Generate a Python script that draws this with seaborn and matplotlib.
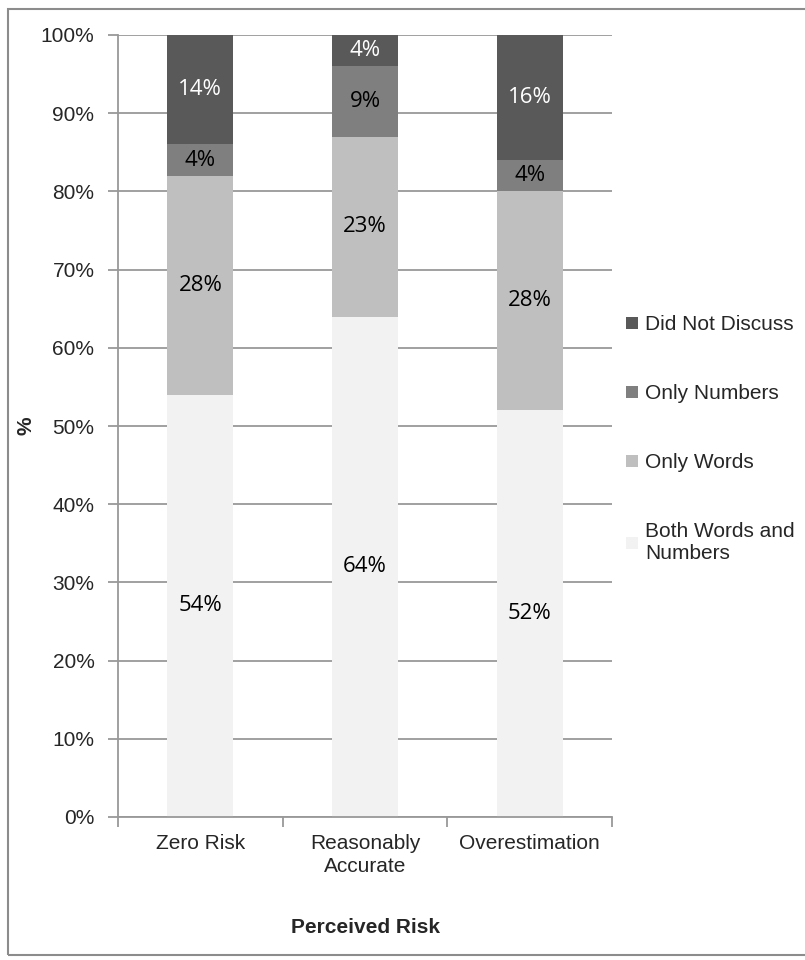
import numpy as np
import pandas as pd
import seaborn as sns
import matplotlib.pyplot as plt
from matplotlib.patches import Rectangle, Patch

sns.set_theme(style="white")
plt.rcParams["font.family"] = ["Liberation Sans", "DejaVu Sans"]

categories = ["Zero Risk", "Reasonably\nAccurate", "Overestimation"]
series = ["Both Words and\nNumbers", "Only Words", "Only Numbers", "Did Not Discuss"]
both_words_numbers = [54, 64, 52]
only_words = [28, 23, 28]
only_numbers = [4, 9, 4]
did_not_discuss = [14, 4, 16]

colors = ["#f2f2f2", "#bfbfbf", "#7f7f7f", "#595959"]
label_colors = ["black", "black", "black", "white"]


def main():
    values = np.array([both_words_numbers, only_words, only_numbers, did_not_discuss])
    tops = np.cumsum(values, axis=0)

    fig = plt.figure(figsize=(8.05, 9.6), dpi=100)
    ax = fig.add_axes([118 / 805, 1 - 817 / 960, (612 - 118) / 805, (817 - 35) / 960])

    # draw from the top segment down so each lower segment covers the one above
    for i in range(len(series) - 1, -1, -1):
        df = pd.DataFrame({"risk": categories, "top": tops[i]})
        sns.barplot(
            data=df,
            x="risk",
            y="top",
            color=colors[i],
            width=0.4,
            saturation=1,
            linewidth=0,
            ax=ax,
            zorder=2,
        )

    for i in range(len(series)):
        for j in range(len(categories)):
            mid = tops[i][j] - values[i][j] / 2
            ax.text(
                j, mid, f"{values[i][j]}%", ha="center", va="center",
                color=label_colors[i], fontsize=16, family=["Open Sans", "DejaVu Sans"],
                zorder=3,
            )

    ax.set_ylim(0, 100)
    ax.set_xlim(-0.5, 2.5)
    ax.set_yticks(range(0, 101, 10))
    ax.set_yticklabels([f"{v}%" for v in range(0, 101, 10)], fontsize=15)
    ax.yaxis.grid(True, color="#999999", linewidth=1.3, zorder=0)
    ax.set_axisbelow(True)
    for s in ["top", "right"]:
        ax.spines[s].set_visible(False)
    for s in ["left", "bottom"]:
        ax.spines[s].set_color("#999999")
        ax.spines[s].set_linewidth(1.3)

    ax.set_xticks([0, 1, 2])
    ax.set_xticklabels(categories, fontsize=15, linespacing=1.3)
    ax.tick_params(axis="x", length=0, pad=12)
    ax.tick_params(axis="y", left=True, length=7, width=1.3, color="#999999", pad=10)
    ax.set_xticks([-0.5, 0.5, 1.5, 2.5], minor=True)
    ax.tick_params(axis="x", which="minor", bottom=True, length=7, width=1.3, color="#999999")

    ax.set_xlabel("Perceived Risk", fontsize=15, fontweight="bold")
    ax.xaxis.set_label_coords(0.5, -(918 - 817) / 782)
    ax.set_ylabel("%", fontsize=15, fontweight="bold")
    ax.yaxis.set_label_coords(-(118 - 35) / 494, 0.5)

    handles = [Patch(facecolor=colors[i], edgecolor="none") for i in range(len(series) - 1, -1, -1)]
    labels = [series[i] for i in range(len(series) - 1, -1, -1)]
    fig.legend(
        handles, labels, loc="upper left", bbox_to_anchor=(618 / 805, 1 - 307 / 960),
        frameon=False, fontsize=15, handlelength=0.55, handleheight=0.55,
        handletextpad=0.35, labelspacing=2.4, borderaxespad=0,
    )

    fig.patches.append(Rectangle(
        (8 / 805, 5 / 960), 1.0, 1 - 14 / 960, transform=fig.transFigure,
        fill=False, edgecolor="#8c8c8c", linewidth=1.5,
    ))

    fig.savefig("out.png", dpi=100)


if __name__ == "__main__":
    main()
